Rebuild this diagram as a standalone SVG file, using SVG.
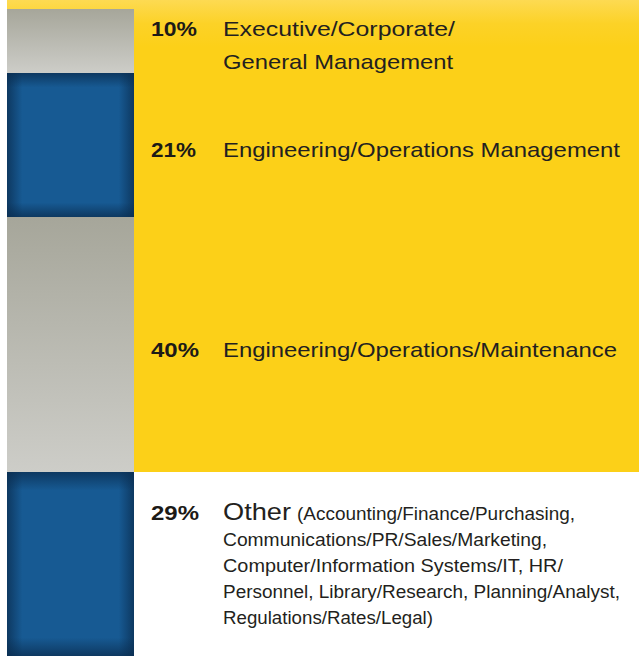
<svg xmlns="http://www.w3.org/2000/svg" width="639" height="656" viewBox="0 0 639 656">
<defs>
<linearGradient id="yel" x1="0" y1="0" x2="0" y2="1">
<stop offset="0" stop-color="#fdda52"/>
<stop offset="0.05" stop-color="#fcd227"/>
<stop offset="0.1" stop-color="#fcd018"/>
<stop offset="1" stop-color="#fcd018"/>
</linearGradient>
<linearGradient id="gray" x1="0" y1="0" x2="0" y2="1">
<stop offset="0" stop-color="#a6a69a"/>
<stop offset="1" stop-color="#cdcdc8"/>
</linearGradient>
<linearGradient id="edgeH" x1="0" y1="0" x2="1" y2="0">
<stop offset="0" stop-color="#0a2d50" stop-opacity="0.75"/>
<stop offset="0.12" stop-color="#0a2d50" stop-opacity="0"/>
<stop offset="0.88" stop-color="#0a2d50" stop-opacity="0"/>
<stop offset="1" stop-color="#0a2d50" stop-opacity="0.75"/>
</linearGradient>
<linearGradient id="edgeV" x1="0" y1="0" x2="0" y2="1">
<stop offset="0" stop-color="#0a2d50" stop-opacity="0.75"/>
<stop offset="0.1" stop-color="#0a2d50" stop-opacity="0"/>
<stop offset="0.9" stop-color="#0a2d50" stop-opacity="0"/>
<stop offset="1" stop-color="#0a2d50" stop-opacity="0.75"/>
</linearGradient>
<style>
.pct{font-family:"Liberation Sans",Arial,sans-serif;font-weight:bold;font-size:20px;fill:#1c1a17}
.lbl{font-family:"Liberation Sans",Arial,sans-serif;font-size:21px;fill:#231f20}
.big{font-family:"Liberation Sans",Arial,sans-serif;font-size:24px;fill:#231f20}
.sm{font-family:"Liberation Sans",Arial,sans-serif;font-size:17.5px;fill:#231f20}
.blue{fill:#175a93}
</style>
</defs>
<rect x="0" y="0" width="639" height="656" fill="#ffffff"/>
<rect x="7" y="0" width="632" height="472" fill="url(#yel)"/>
<g id="bar10">
<rect x="7" y="9" width="127" height="64" fill="url(#gray)"/>
</g>
<g id="bar21">
<rect x="7" y="73" width="127" height="144" class="blue"/>
<rect x="7" y="73" width="127" height="144" fill="url(#edgeH)"/>
<rect x="7" y="73" width="127" height="144" fill="url(#edgeV)"/>
</g>
<g id="bar40">
<rect x="7" y="217" width="127" height="255" fill="url(#gray)"/>
</g>
<g id="bar29">
<rect x="7" y="472" width="127" height="184" class="blue"/>
<rect x="7" y="472" width="127" height="184" fill="url(#edgeH)"/>
<rect x="7" y="472" width="127" height="184" fill="url(#edgeV)"/>
</g>
<g id="label10">
<text class="pct" x="151" y="36" textLength="46" lengthAdjust="spacingAndGlyphs">10%</text>
<text class="lbl" x="223" y="36" textLength="232" lengthAdjust="spacingAndGlyphs">Executive/Corporate/</text>
<text class="lbl" x="223" y="69" textLength="230" lengthAdjust="spacingAndGlyphs">General Management</text>
</g>
<g id="label21">
<text class="pct" x="151" y="157" textLength="45" lengthAdjust="spacingAndGlyphs">21%</text>
<text class="lbl" x="223" y="157" textLength="397" lengthAdjust="spacingAndGlyphs">Engineering/Operations Management</text>
</g>
<g id="label40">
<text class="pct" x="151" y="357" textLength="48" lengthAdjust="spacingAndGlyphs">40%</text>
<text class="lbl" x="223" y="357" textLength="394" lengthAdjust="spacingAndGlyphs">Engineering/Operations/Maintenance</text>
</g>
<g id="label29">
<text class="pct" x="151" y="520" textLength="48" lengthAdjust="spacingAndGlyphs">29%</text>
<text class="big" x="223" y="520" textLength="68" lengthAdjust="spacingAndGlyphs">Other</text>
<text class="sm" x="297" y="520" textLength="278" lengthAdjust="spacingAndGlyphs">(Accounting/Finance/Purchasing,</text>
<text class="sm" x="223" y="546" textLength="324" lengthAdjust="spacingAndGlyphs">Communications/PR/Sales/Marketing,</text>
<text class="sm" x="223" y="572" textLength="340" lengthAdjust="spacingAndGlyphs">Computer/Information Systems/IT, HR/</text>
<text class="sm" x="223" y="598" textLength="397" lengthAdjust="spacingAndGlyphs">Personnel, Library/Research, Planning/Analyst,</text>
<text class="sm" x="223" y="624" textLength="210" lengthAdjust="spacingAndGlyphs">Regulations/Rates/Legal)</text>
</g>
</svg>
